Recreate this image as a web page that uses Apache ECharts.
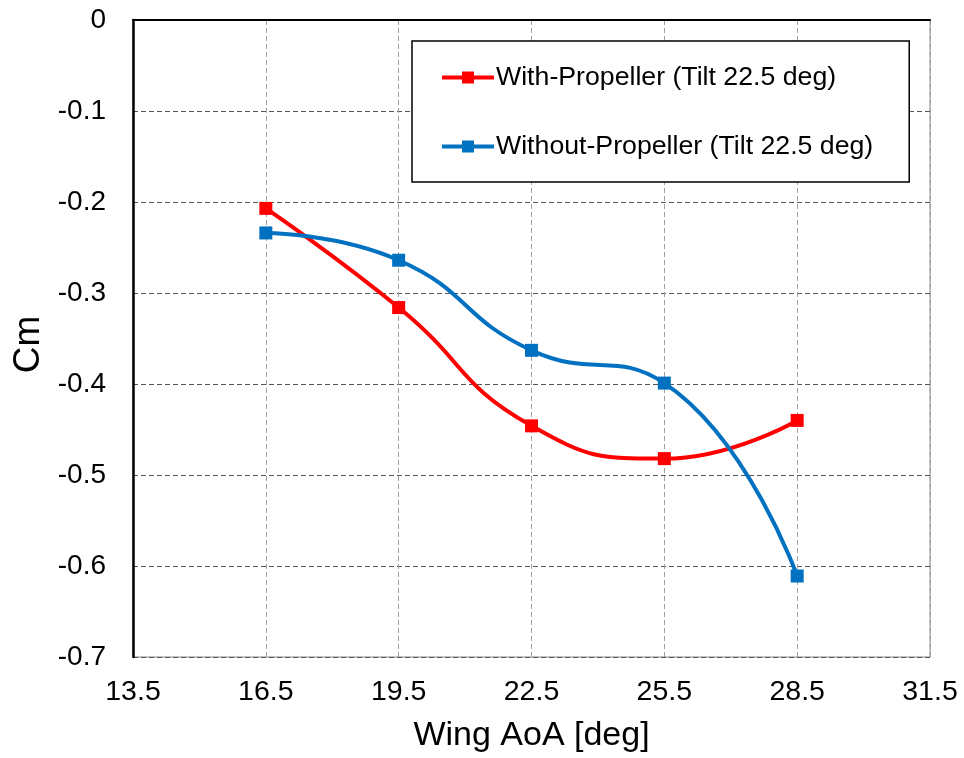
<!DOCTYPE html>
<html>
<head>
<meta charset="utf-8">
<script src="https://cdn.jsdelivr.net/npm/echarts@6/dist/echarts.min.js"></script>
<style>html,body{margin:0;padding:0;background:#fff;}#c{width:964px;height:758px;}</style>
</head>
<body>
<div id="c"></div>
<script>
var aoa = [16.5, 19.5, 22.5, 25.5, 28.5];
var withProp = [-0.207, -0.316, -0.446, -0.482, -0.440];
var withoutProp = [-0.234, -0.264, -0.363, -0.399, -0.611];
var xTicks = [13.5, 16.5, 19.5, 22.5, 25.5, 28.5, 31.5];
var seriesNames = ['With-Propeller (Tilt 22.5 deg)', 'Without-Propeller (Tilt 22.5 deg)'];

function pairs(xs, ys) { return xs.map(function (x, i) { return [x, ys[i]]; }); }

var font = '"Liberation Sans", Arial, sans-serif';
var chart = echarts.init(document.getElementById('c'), null, {renderer: 'canvas'});
chart.setOption({
  animation: false,
  backgroundColor: '#fff',
  grid: {left: 133, top: 20, right: 34, bottom: 101, show: true, borderColor: '#888', borderWidth: 1},
  legend: {
    orient: 'vertical', left: 412, top: 41,
    padding: [23, 36, 22, 28], itemGap: 42,
    itemWidth: 52, itemHeight: 15,
    borderColor: '#000', borderWidth: 1.5, backgroundColor: '#fff',
    lineStyle: {width: 4},
    textStyle: {fontFamily: font, fontSize: 26.7, color: '#000', padding: [0, 0, 0, -3]},
    data: seriesNames
  },
  xAxis: [{
    type: 'value', min: xTicks[0], max: xTicks[xTicks.length - 1], interval: 3,
    name: 'Wing AoA [deg]', nameLocation: 'middle', nameGap: 62,
    nameTextStyle: {fontFamily: font, fontSize: 34, color: '#000'},
    axisLine: {show: true, lineStyle: {color: '#888', width: 1}},
    axisTick: {show: false},
    axisLabel: {fontFamily: font, fontSize: 28.5, color: '#000', margin: 21,
      formatter: function (v) { return v.toFixed(1); }},
    splitLine: {show: true, lineStyle: {color: '#a0a0a0', type: [5, 3], width: 1}}
  }, {
    type: 'value', position: 'top', min: xTicks[0], max: xTicks[xTicks.length - 1], interval: 3,
    axisLine: {show: true, lineStyle: {color: '#000', width: 2}},
    axisTick: {show: false}, axisLabel: {show: false}, splitLine: {show: false}
  }],
  yAxis: {
    type: 'value', min: -0.7, max: 0, interval: 0.1,
    name: 'Cm', nameLocation: 'middle', nameGap: 86,
    nameTextStyle: {fontFamily: font, fontSize: 37, color: '#000', padding: [0, 12, 0, 0]},
    axisLine: {show: true, lineStyle: {color: '#000', width: 2.5}},
    axisTick: {show: false},
    axisLabel: {fontFamily: font, fontSize: 28, color: '#000', margin: 27,
      formatter: function (v) { return v === 0 ? '0' : v.toFixed(1); }},
    splitLine: {show: true, lineStyle: {color: '#555', type: [5, 3], width: 1}}
  },
  series: [{
    name: seriesNames[0], type: 'line', smooth: 0.5,
    data: pairs(aoa, withProp),
    symbol: 'rect', symbolSize: 13,
    itemStyle: {color: '#FF0000'},
    lineStyle: {color: '#FF0000', width: 4}
  }, {
    name: seriesNames[1], type: 'line', smooth: 0.5,
    data: pairs(aoa, withoutProp),
    symbol: 'rect', symbolSize: 13,
    itemStyle: {color: '#0070C0'},
    lineStyle: {color: '#0070C0', width: 4}
  }]
});
</script>
</body>
</html>
